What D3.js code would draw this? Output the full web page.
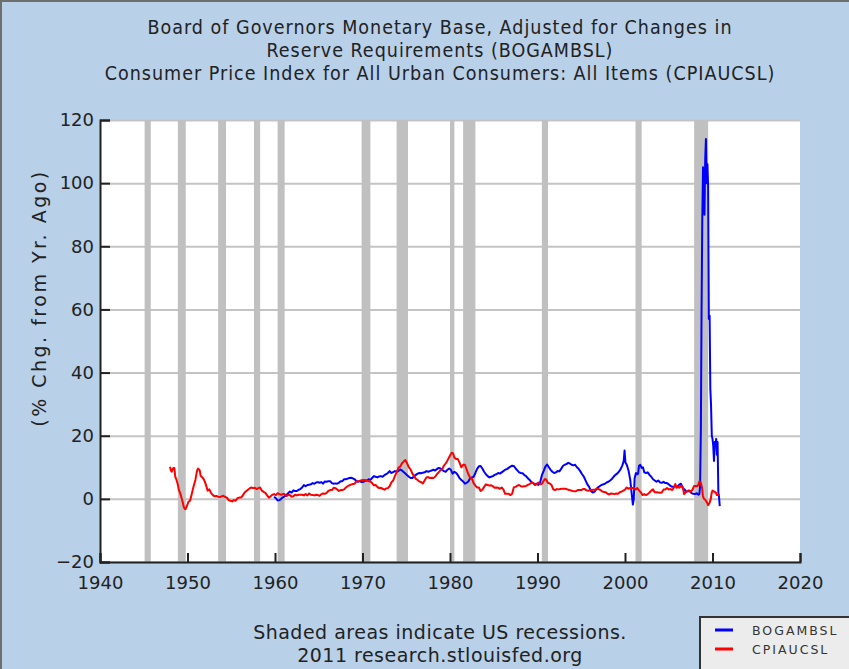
<!DOCTYPE html>
<html>
<head>
<meta charset="utf-8">
<script src="https://cdn.jsdelivr.net/npm/d3@7"></script>
<style>
  body { margin: 0; background: #b8d0e8; }
  svg { display: block; }
</style>
</head>
<body>
<svg></svg>
<script>
// chart data
var titleLines = [
  "Board of Governors Monetary Base, Adjusted for Changes in",
  "Reserve Requirements (BOGAMBSL)",
  "Consumer Price Index for All Urban Consumers: All Items (CPIAUCSL)"
]
var footLines = ["Shaded areas indicate US recessions.", "2011 research.stlouisfed.org"]
var yLabel = "(% Chg. from Yr. Ago)"
var seriesNames = ["BOGAMBSL", "CPIAUCSL"]

var xTicks = [1940, 1950, 1960, 1970, 1980, 1990, 2000, 2010, 2020]
var yTicks = [-20, 0, 20, 40, 60, 80, 100, 120]

var recessionStarts = [1945.1, 1948.9, 1953.5, 1957.6, 1960.3, 1969.9, 1973.9, 1980.0, 1981.5, 1990.5, 2001.2, 2007.9]
var recessionEnds   = [1945.8, 1949.8, 1954.4, 1958.3, 1961.1, 1970.9, 1975.2, 1980.5, 1982.9, 1991.2, 2001.9, 2009.5]

// [year, % change from a year ago]
var baseValues = [
  [1959.9, 0.7], [1960.1, 0.2], [1960.3, -0.5], [1960.5, -0.4], [1960.7, 0.0], [1960.9, 0.5],
  [1961.1, 0.8], [1961.3, 1.2], [1961.5, 1.8], [1961.7, 2.3], [1961.9, 2.0], [1962.1, 2.7],
  [1962.3, 2.5], [1962.5, 2.5], [1962.7, 2.9], [1962.9, 3.1], [1963.1, 3.6], [1963.3, 4.4],
  [1963.5, 4.0], [1963.7, 4.4], [1963.9, 4.5], [1964.1, 4.6], [1964.3, 5.0], [1964.5, 4.8],
  [1964.7, 5.2], [1964.9, 5.3], [1965.1, 5.1], [1965.3, 5.3], [1965.5, 4.8], [1965.7, 5.5],
  [1965.9, 5.4], [1966.1, 5.6], [1966.3, 5.6], [1966.5, 5.0], [1966.7, 4.8], [1966.9, 4.9],
  [1967.1, 4.8], [1967.3, 5.1], [1967.5, 5.6], [1967.7, 5.6], [1967.9, 6.2], [1968.1, 6.2],
  [1968.3, 6.4], [1968.5, 6.6], [1968.7, 6.7], [1968.9, 6.5], [1969.1, 6.2], [1969.3, 5.6],
  [1969.5, 5.4], [1969.7, 5.6], [1969.9, 5.3], [1970.1, 5.4], [1970.3, 5.7], [1970.5, 5.8],
  [1970.7, 6.2], [1970.9, 6.0], [1971.1, 6.6], [1971.3, 7.2], [1971.5, 7.0], [1971.7, 6.8],
  [1971.9, 7.1], [1972.1, 7.2], [1972.3, 7.0], [1972.5, 7.5], [1972.7, 7.8], [1972.9, 8.2],
  [1973.1, 8.8], [1973.3, 8.2], [1973.5, 8.5], [1973.7, 8.8], [1973.9, 8.6], [1974.1, 8.8],
  [1974.3, 9.3], [1974.5, 9.0], [1974.7, 8.5], [1974.9, 8.0], [1975.1, 7.5], [1975.3, 7.0],
  [1975.5, 6.6], [1975.7, 6.6], [1975.9, 7.2], [1976.1, 7.6], [1976.3, 8.0], [1976.5, 8.2],
  [1976.7, 8.1], [1976.9, 8.3], [1977.1, 8.4], [1977.3, 8.8], [1977.5, 8.6], [1977.7, 8.8],
  [1977.9, 9.0], [1978.1, 9.2], [1978.3, 9.0], [1978.5, 9.4], [1978.7, 9.8], [1978.9, 9.6],
  [1979.1, 9.2], [1979.3, 8.8], [1979.5, 8.6], [1979.7, 9.2], [1979.9, 9.6], [1980.1, 9.2],
  [1980.3, 8.0], [1980.5, 8.6], [1980.7, 8.2], [1980.9, 7.5], [1981.1, 6.5], [1981.3, 6.0],
  [1981.5, 5.5], [1981.7, 4.8], [1981.9, 5.1], [1982.1, 5.5], [1982.3, 6.5], [1982.5, 6.8],
  [1982.7, 7.0], [1982.9, 8.2], [1983.1, 9.5], [1983.3, 10.3], [1983.5, 10.4], [1983.7, 9.6],
  [1983.9, 8.6], [1984.1, 7.8], [1984.3, 7.2], [1984.5, 6.8], [1984.7, 7.0], [1984.9, 7.2],
  [1985.1, 7.6], [1985.3, 7.8], [1985.5, 8.2], [1985.7, 8.0], [1985.9, 8.4], [1986.1, 8.8],
  [1986.3, 9.2], [1986.5, 9.4], [1986.7, 9.8], [1986.9, 10.2], [1987.1, 10.5], [1987.3, 10.4],
  [1987.5, 9.6], [1987.7, 9.0], [1987.9, 8.4], [1988.1, 8.2], [1988.3, 8.1], [1988.5, 7.5],
  [1988.7, 7.2], [1988.9, 6.5], [1989.1, 6.0], [1989.3, 5.3], [1989.5, 5.0], [1989.7, 4.5],
  [1989.9, 4.8], [1990.1, 4.4], [1990.3, 5.2], [1990.5, 7.5], [1990.7, 8.8], [1990.9, 10.2],
  [1991.1, 10.9], [1991.3, 10.0], [1991.5, 9.2], [1991.7, 8.6], [1991.9, 8.2], [1992.1, 8.4],
  [1992.3, 8.8], [1992.5, 8.7], [1992.7, 9.5], [1992.9, 10.4], [1993.1, 10.8], [1993.3, 11.0],
  [1993.5, 11.4], [1993.7, 11.2], [1993.9, 10.8], [1994.1, 10.6], [1994.3, 10.8], [1994.5, 10.0],
  [1994.7, 9.5], [1994.9, 8.7], [1995.1, 7.8], [1995.3, 7.0], [1995.5, 5.8], [1995.7, 4.6],
  [1995.9, 3.8], [1996.1, 2.5], [1996.3, 2.0], [1996.5, 2.2], [1996.7, 3.0], [1996.9, 3.6],
  [1997.1, 4.0], [1997.3, 4.4], [1997.5, 4.6], [1997.7, 4.8], [1997.9, 5.2], [1998.1, 5.4],
  [1998.3, 5.8], [1998.5, 6.3], [1998.7, 7.0], [1998.9, 7.6], [1999.1, 8.0], [1999.3, 8.6],
  [1999.5, 9.4], [1999.7, 10.6], [1999.85, 12.0], [1999.95, 15.3], [2000.05, 11.5], [2000.2, 10.8],
  [2000.4, 9.0], [2000.6, 6.0], [2000.75, 2.0], [2000.9, -1.8], [2001.0, 0.0], [2001.1, 6.5],
  [2001.25, 8.2], [2001.4, 7.8], [2001.5, 8.0], [2001.6, 10.5], [2001.75, 10.8], [2001.9, 9.8],
  [2002.05, 10.0], [2002.2, 8.4], [2002.4, 8.2], [2002.6, 8.4], [2002.8, 7.6], [2003.0, 7.0],
  [2003.2, 6.2], [2003.4, 5.8], [2003.6, 5.4], [2003.8, 5.8], [2004.0, 5.2], [2004.2, 5.1],
  [2004.4, 5.4], [2004.6, 5.0], [2004.8, 5.0], [2005.0, 4.6], [2005.2, 4.1], [2005.4, 3.8],
  [2005.6, 3.8], [2005.8, 3.9], [2006.0, 3.9], [2006.2, 4.5], [2006.4, 4.8], [2006.6, 3.3],
  [2006.8, 3.0], [2007.0, 2.2], [2007.2, 2.5], [2007.4, 2.4], [2007.6, 1.8], [2007.8, 1.6],
  [2008.0, 1.5], [2008.2, 1.8], [2008.4, 1.3], [2008.5, 1.5], [2008.58, 4], [2008.67, 22],
  [2008.75, 60], [2008.83, 88], [2008.92, 105], [2009.0, 98], [2009.08, 90], [2009.17, 108],
  [2009.25, 114], [2009.33, 100], [2009.42, 106], [2009.5, 99], [2009.58, 57], [2009.67, 58],
  [2009.75, 35], [2009.83, 30], [2009.92, 20], [2010.0, 19], [2010.08, 17], [2010.17, 12],
  [2010.25, 18], [2010.33, 17], [2010.42, 19], [2010.5, 14], [2010.58, 18], [2010.67, 2],
  [2010.75, 0.5], [2010.83, -2.3]
]

var cpiValues = [
  [1948.0, 10.2], [1948.1, 9.0], [1948.2, 8.6], [1948.3, 9.5], [1948.4, 9.8], [1948.5, 9.8],
  [1948.6, 7.0], [1948.75, 6.0], [1948.9, 4.5], [1949.0, 3.0], [1949.2, 1.5], [1949.4, -0.5],
  [1949.6, -2.8], [1949.75, -3.3], [1949.9, -2.5], [1950.1, -1.0], [1950.3, -0.5], [1950.5, 1.7],
  [1950.7, 4.0], [1950.9, 6.0], [1951.1, 9.0], [1951.2, 9.6], [1951.4, 9.0], [1951.5, 7.3],
  [1951.7, 6.8], [1951.9, 6.0], [1952.1, 4.5], [1952.3, 2.6], [1952.5, 3.0], [1952.7, 1.8],
  [1952.9, 1.2], [1953.1, 0.8], [1953.3, 0.9], [1953.5, 0.7], [1953.7, 0.6], [1953.9, 0.8],
  [1954.1, 1.0], [1954.3, 0.6], [1954.5, 0.4], [1954.7, -0.4], [1954.9, -0.6], [1955.1, -0.8],
  [1955.3, -0.4], [1955.5, -0.6], [1955.7, 0.2], [1955.9, 0.4], [1956.1, 0.4], [1956.3, 1.0],
  [1956.5, 1.9], [1956.7, 2.4], [1956.9, 2.9], [1957.1, 3.3], [1957.3, 3.6], [1957.5, 3.4],
  [1957.7, 3.5], [1957.9, 3.1], [1958.1, 3.4], [1958.3, 3.6], [1958.5, 2.6], [1958.7, 2.2],
  [1958.9, 1.9], [1959.1, 1.1], [1959.3, 0.4], [1959.5, 0.8], [1959.7, 1.3], [1959.9, 1.5],
  [1960.1, 1.2], [1960.3, 1.8], [1960.5, 1.5], [1960.7, 1.3], [1960.9, 1.5], [1961.1, 1.5],
  [1961.3, 0.9], [1961.5, 1.2], [1961.7, 1.2], [1961.9, 0.7], [1962.1, 0.8], [1962.3, 1.3],
  [1962.5, 1.1], [1962.7, 1.3], [1962.9, 1.3], [1963.1, 1.3], [1963.3, 1.1], [1963.5, 1.5],
  [1963.7, 1.1], [1963.9, 1.7], [1964.1, 1.3], [1964.3, 1.2], [1964.5, 1.1], [1964.7, 1.3],
  [1964.9, 1.2], [1965.1, 1.0], [1965.3, 1.5], [1965.5, 1.7], [1965.7, 1.6], [1965.9, 1.9],
  [1966.1, 2.5], [1966.3, 2.8], [1966.5, 2.8], [1966.7, 3.5], [1966.9, 3.4], [1967.1, 3.0],
  [1967.3, 2.5], [1967.5, 2.8], [1967.7, 2.8], [1967.9, 3.0], [1968.1, 3.6], [1968.3, 4.0],
  [1968.5, 4.3], [1968.7, 4.5], [1968.9, 4.7], [1969.1, 4.8], [1969.3, 5.5], [1969.5, 5.6],
  [1969.7, 5.7], [1969.9, 5.9], [1970.1, 6.0], [1970.3, 6.0], [1970.5, 5.8], [1970.7, 5.6],
  [1970.9, 5.5], [1971.1, 5.0], [1971.3, 4.3], [1971.5, 4.4], [1971.7, 3.8], [1971.9, 3.4],
  [1972.1, 3.5], [1972.3, 3.2], [1972.5, 2.9], [1972.7, 3.3], [1972.9, 3.4], [1973.1, 4.0],
  [1973.3, 5.2], [1973.5, 5.8], [1973.7, 7.2], [1973.9, 8.4], [1974.1, 9.8], [1974.3, 10.2],
  [1974.5, 11.2], [1974.7, 11.8], [1974.9, 12.3], [1975.1, 11.2], [1975.3, 10.0], [1975.5, 9.3],
  [1975.7, 8.0], [1975.9, 7.2], [1976.1, 6.3], [1976.3, 6.0], [1976.5, 5.5], [1976.7, 5.3],
  [1976.9, 4.9], [1977.1, 5.8], [1977.3, 6.8], [1977.5, 6.9], [1977.7, 6.6], [1977.9, 6.7],
  [1978.1, 6.6], [1978.3, 7.0], [1978.5, 7.8], [1978.7, 8.4], [1978.9, 9.0], [1979.1, 9.4],
  [1979.3, 10.5], [1979.5, 11.2], [1979.7, 12.1], [1979.9, 13.2], [1980.1, 14.2], [1980.2, 14.6],
  [1980.35, 14.4], [1980.5, 13.1], [1980.7, 12.6], [1980.9, 12.6], [1981.1, 11.4], [1981.3, 10.0],
  [1981.5, 10.8], [1981.7, 10.8], [1981.9, 9.3], [1982.1, 7.8], [1982.3, 6.7], [1982.5, 6.4],
  [1982.7, 5.0], [1982.9, 4.2], [1983.1, 3.6], [1983.3, 3.6], [1983.5, 2.5], [1983.7, 2.9],
  [1983.9, 3.8], [1984.1, 4.6], [1984.3, 4.4], [1984.5, 4.2], [1984.7, 4.3], [1984.9, 4.0],
  [1985.1, 3.5], [1985.3, 3.6], [1985.5, 3.5], [1985.7, 3.2], [1985.9, 3.6], [1986.1, 3.0],
  [1986.3, 1.6], [1986.5, 1.6], [1986.7, 1.6], [1986.9, 1.2], [1987.1, 1.6], [1987.3, 3.7],
  [1987.5, 3.8], [1987.7, 4.2], [1987.9, 4.4], [1988.1, 4.0], [1988.3, 3.9], [1988.5, 4.0],
  [1988.7, 4.1], [1988.9, 4.4], [1989.1, 4.7], [1989.3, 5.1], [1989.5, 5.1], [1989.7, 4.4],
  [1989.9, 4.6], [1990.1, 5.2], [1990.3, 4.6], [1990.5, 4.8], [1990.7, 5.7], [1990.85, 6.3],
  [1991.0, 6.1], [1991.2, 5.0], [1991.4, 4.9], [1991.6, 4.4], [1991.8, 3.0], [1992.0, 2.8],
  [1992.2, 3.1], [1992.4, 3.0], [1992.6, 3.1], [1992.8, 3.2], [1993.0, 3.2], [1993.2, 3.2],
  [1993.4, 3.0], [1993.6, 2.8], [1993.8, 2.7], [1994.0, 2.5], [1994.2, 2.4], [1994.4, 2.4],
  [1994.6, 2.8], [1994.8, 2.8], [1995.0, 2.8], [1995.2, 3.1], [1995.4, 3.1], [1995.6, 2.7],
  [1995.8, 2.6], [1996.0, 2.7], [1996.2, 2.8], [1996.4, 2.9], [1996.6, 2.9], [1996.8, 3.2],
  [1997.0, 3.1], [1997.2, 2.8], [1997.4, 2.3], [1997.6, 2.2], [1997.8, 2.1], [1998.0, 1.6],
  [1998.2, 1.4], [1998.4, 1.7], [1998.6, 1.6], [1998.8, 1.5], [1999.0, 1.7], [1999.2, 1.6],
  [1999.4, 2.1], [1999.6, 2.3], [1999.8, 2.6], [2000.0, 2.9], [2000.2, 3.6], [2000.4, 3.2],
  [2000.6, 3.5], [2000.8, 3.4], [2001.0, 3.4], [2001.2, 3.0], [2001.4, 3.4], [2001.6, 2.7],
  [2001.8, 2.1], [2002.0, 1.2], [2002.2, 1.5], [2002.4, 1.2], [2002.6, 1.5], [2002.8, 2.0],
  [2003.0, 2.6], [2003.2, 3.0], [2003.4, 2.1], [2003.6, 2.1], [2003.8, 2.0], [2004.0, 1.9],
  [2004.2, 2.0], [2004.4, 3.0], [2004.6, 3.0], [2004.8, 3.4], [2005.0, 3.0], [2005.2, 3.1],
  [2005.4, 2.8], [2005.6, 3.6], [2005.75, 4.7], [2005.9, 3.5], [2006.0, 4.0], [2006.2, 3.5],
  [2006.4, 4.2], [2006.6, 3.8], [2006.75, 1.5], [2006.9, 2.0], [2007.1, 2.4], [2007.3, 2.7],
  [2007.5, 2.3], [2007.7, 2.8], [2007.9, 4.1], [2008.1, 4.1], [2008.3, 4.0], [2008.5, 5.5],
  [2008.65, 5.3], [2008.8, 3.6], [2008.9, 1.0], [2009.0, 0.1], [2009.2, -0.4], [2009.4, -1.3],
  [2009.5, -2.0], [2009.65, -1.4], [2009.8, -0.1], [2009.9, 1.8], [2010.0, 2.6], [2010.2, 2.3],
  [2010.4, 1.9], [2010.5, 1.2], [2010.7, 1.2], [2010.85, 1.2]
]

var width = 849
var height = 669
var plotLeft = 100, plotRight = 800, plotTop = 120, plotBottom = 562
var centerX = 440

var svg = d3.select("svg")
  .attr("width", width)
  .attr("height", height)

svg.append("rect")
  .attr("width", width)
  .attr("height", height)
  .attr("fill", "#b8d0e8")

// frame on the top and left edges
svg.append("path")
  .attr("d", "M1," + height + "V1H" + width)
  .attr("fill", "none")
  .attr("stroke", "#6e6e6e")
  .attr("stroke-width", 2)

var x = d3.scaleLinear().domain([1940, 2020]).range([plotLeft, plotRight])
var y = d3.scaleLinear().domain([-20, 120]).range([plotBottom, plotTop])

svg.append("rect")
  .attr("x", plotLeft)
  .attr("y", plotTop)
  .attr("width", plotRight - plotLeft)
  .attr("height", plotBottom - plotTop)
  .attr("fill", "white")

// horizontal grid
svg.append("g")
  .attr("transform", "translate(" + plotLeft + ",0)")
  .call(d3.axisLeft(y).tickValues(yTicks).tickSize(-(plotRight - plotLeft)).tickFormat(""))
  .call(g => g.select(".domain").remove())
  .selectAll("line")
  .attr("stroke", "#c4c4c4")
  .attr("stroke-width", 2)

// recessions
svg.append("g")
  .selectAll("rect")
  .data(recessionStarts)
  .enter()
    .append("rect")
    .attr("x", d => x(d))
    .attr("width", (d, i) => x(recessionEnds[i]) - x(d))
    .attr("y", plotTop)
    .attr("height", plotBottom - plotTop)
    .attr("fill", "#c0c0c0")

var line = d3.line()
  .x(d => x(d[0]))
  .y(d => y(d[1]))

svg.append("path")
  .datum(baseValues)
  .attr("d", line)
  .attr("fill", "none")
  .attr("stroke", "#0000ff")
  .attr("stroke-width", 2)
  .attr("stroke-linejoin", "round")

svg.append("path")
  .datum(cpiValues)
  .attr("d", line)
  .attr("fill", "none")
  .attr("stroke", "#ff0000")
  .attr("stroke-width", 2)
  .attr("stroke-linejoin", "round")

// axes
var yAxis = svg.append("g")
  .attr("transform", "translate(" + plotLeft + ",0)")
  .call(d3.axisLeft(y).tickValues(yTicks).tickSize(-10).tickPadding(6))
yAxis.select(".domain").attr("stroke", "#222").attr("stroke-width", 2)
yAxis.selectAll("line").attr("stroke", "#222").attr("stroke-width", 2)
yAxis.selectAll("text")
  .attr("fill", "#222")
  .style("font", "18px 'DejaVu Sans'")

var xAxis = svg.append("g")
  .attr("transform", "translate(0," + plotBottom + ")")
  .call(d3.axisBottom(x).tickValues(xTicks).tickSize(-9).tickPadding(14).tickFormat(d3.format("d")))
xAxis.select(".domain").attr("stroke", "#222").attr("stroke-width", 2)
xAxis.selectAll("line").attr("stroke", "#222").attr("stroke-width", 2)
xAxis.selectAll("text")
  .attr("fill", "#222")
  .style("font", "18px 'DejaVu Sans'")

// titles
svg.append("g")
  .selectAll("text")
  .data(titleLines)
  .enter()
    .append("text")
    .attr("x", centerX)
    .attr("y", (d, i) => 34 + i * 23)
    .attr("text-anchor", "middle")
    .attr("fill", "#222")
    .style("font", "19.5px 'DejaVu Sans Condensed'")
    .style("letter-spacing", "1px")
    .text(d => d)

svg.append("text")
  .attr("transform", "translate(46,298) rotate(-90)")
  .attr("text-anchor", "middle")
  .attr("fill", "#222")
  .style("font", "19px 'DejaVu Sans'")
  .style("letter-spacing", "2.5px")
  .text(yLabel)

svg.append("g")
  .selectAll("text")
  .data(footLines)
  .enter()
    .append("text")
    .attr("x", centerX)
    .attr("y", (d, i) => 639 + i * 22.5)
    .attr("text-anchor", "middle")
    .attr("fill", "#222")
    .style("font", "19px 'DejaVu Sans'")
    .style("letter-spacing", "0.5px")
    .text(d => d)

// legend
var legend = svg.append("g")
legend.append("rect")
  .attr("x", 700)
  .attr("y", 617)
  .attr("width", 160)
  .attr("height", 60)
  .attr("fill", "#ececec")
  .attr("stroke", "#333")
  .attr("stroke-width", 2)

var legendColors = ["#0000ff", "#ff0000"]
legend.selectAll("line")
  .data(seriesNames)
  .enter()
    .append("line")
    .attr("x1", 715)
    .attr("x2", 733)
    .attr("y1", (d, i) => 630 + i * 19)
    .attr("y2", (d, i) => 630 + i * 19)
    .attr("stroke", (d, i) => legendColors[i])
    .attr("stroke-width", 3)

legend.selectAll("text")
  .data(seriesNames)
  .enter()
    .append("text")
    .attr("x", 752)
    .attr("y", (d, i) => 635 + i * 19)
    .attr("fill", "#333")
    .style("font", "12.5px 'DejaVu Sans'")
    .style("letter-spacing", "2px")
    .text(d => d)
</script>
</body>
</html>
